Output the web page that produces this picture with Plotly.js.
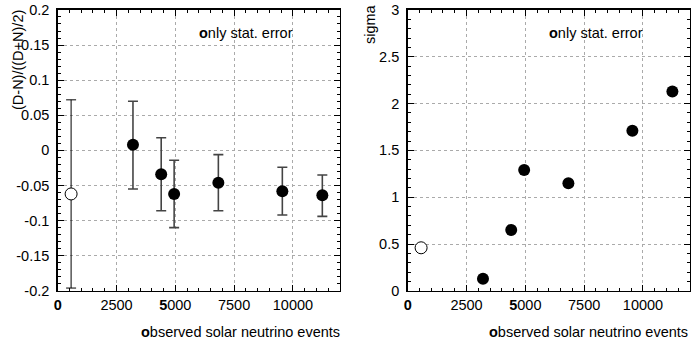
<!DOCTYPE html>
<html><head><meta charset="utf-8">
<script src="https://cdn.plot.ly/plotly-3.0.1.min.js"></script>
<style>html,body{margin:0;padding:0;background:#fff}#c{width:691px;height:343px}</style>
</head><body><div id="c"></div>
<script>
// open-circle point (first bin)
const openX = [570];
const openAsym = [-0.062];
const openErrPlus = [0.134];
const openErrMinus = [0.134];
const openSigma = [0.46];
// filled points
const fillX = [3200, 4400, 4950, 6830, 9550, 11250];
const fillAsym = [0.008, -0.034, -0.062, -0.046, -0.058, -0.064];
const fillErrPlus = [0.062, 0.052, 0.048, 0.040, 0.034, 0.029];
const fillErrMinus = [0.063, 0.052, 0.048, 0.040, 0.034, 0.030];
const fillSigma = [0.13, 0.65, 1.29, 1.15, 1.71, 2.13];
const xTickVals = [0, 2500, 5000, 7500, 10000];
const xTickText = ['<b>0</b>', '2500', '<b>5</b>000', '7500', '10000'];
const yLeftTicks = [-0.2, -0.15, -0.1, -0.05, 0, 0.05, 0.1, 0.15, 0.2];
const yLeftText = ['-0.2', '-0.15', '-0.1', '-0.05', '0', '0.05', '0.1', '0.15', '0.2'];
const yRightTicks = [0, 0.5, 1, 1.5, 2, 2.5, 3];
const yRightText = ['0', '0.5', '1', '1.5', '2', '2.5', '3'];

const F = 'Liberation Sans, Arial, sans-serif';
const traces = [
  {x: openX, y: openAsym, xaxis: 'x', yaxis: 'y', type: 'scatter', mode: 'markers',
   marker: {symbol: 'circle', size: 12, color: '#fff', line: {color: '#000', width: 1}},
   error_y: {type: 'data', symmetric: false, array: openErrPlus, arrayminus: openErrMinus, color: '#000', thickness: 1, width: 5}},
  {x: fillX, y: fillAsym, xaxis: 'x', yaxis: 'y', type: 'scatter', mode: 'markers',
   marker: {symbol: 'circle', size: 12, color: '#000'},
   error_y: {type: 'data', symmetric: false, array: fillErrPlus, arrayminus: fillErrMinus, color: '#444', thickness: 1.6, width: 5}},
  {x: openX, y: openSigma, xaxis: 'x2', yaxis: 'y2', type: 'scatter', mode: 'markers',
   marker: {symbol: 'circle', size: 12, color: '#fff', line: {color: '#000', width: 1}}},
  {x: fillX, y: fillSigma, xaxis: 'x2', yaxis: 'y2', type: 'scatter', mode: 'markers',
   marker: {symbol: 'circle', size: 12, color: '#000'}}
];
const axCommon = {
  showline: true, linecolor: '#000', linewidth: 1.5, mirror: 'ticks',
  ticks: 'inside', ticklen: 6, tickcolor: '#000', tickwidth: 1,
  showgrid: true, gridcolor: '#aaa', griddash: 'dot', gridwidth: 1,
  zeroline: false, tickfont: {family: F, size: 14.5, color: '#000'}, tickmode: 'array'
};
const xa = Object.assign({}, axCommon, {range: [0, 12000], tickvals: xTickVals, ticktext: xTickText,
  minor: {dtick: 500, ticks: 'inside', ticklen: 3, tickcolor: '#000', showgrid: false}});
const layout = {
  width: 691, height: 343, margin: {l: 0, r: 0, t: 0, b: 0},
  paper_bgcolor: '#fff', plot_bgcolor: '#fff', showlegend: false,
  xaxis: Object.assign({}, xa, {domain: [0.0835, 0.492], anchor: 'y'}),
  xaxis2: Object.assign({}, xa, {domain: [0.590, 0.9986], anchor: 'y2'}),
  yaxis: Object.assign({}, axCommon, {domain: [0.152, 0.971], range: [-0.2, 0.2], anchor: 'x',
    tickvals: yLeftTicks, ticktext: yLeftText, ticklabelstandoff: 4,
    minor: {dtick: 0.01, ticks: 'inside', ticklen: 3, tickcolor: '#000', showgrid: false}}),
  yaxis2: Object.assign({}, axCommon, {domain: [0.152, 0.971], range: [0, 3], anchor: 'x2',
    tickvals: yRightTicks, ticktext: yRightText, ticklabelstandoff: 4,
    minor: {dtick: 0.1, ticks: 'inside', ticklen: 3, tickcolor: '#000', showgrid: false}}),
  annotations: [
    {text: '<b>o</b>nly stat. error', xref: 'paper', yref: 'paper', x: 295/691, y: 1 - 33/343, xanchor: 'right', yanchor: 'middle', showarrow: false, font: {family: F, size: 14.5, color: '#000'}},
    {text: '<b>o</b>nly stat. error', xref: 'paper', yref: 'paper', x: 645/691, y: 1 - 33/343, xanchor: 'right', yanchor: 'middle', showarrow: false, font: {family: F, size: 14.5, color: '#000'}},
    {text: '<b>o</b>bserved solar neutrino events', xref: 'paper', yref: 'paper', x: 342/691, y: 1 - 332/343, xanchor: 'right', yanchor: 'middle', showarrow: false, font: {family: F, size: 14.5, color: '#000'}},
    {text: '<b>o</b>bserved solar neutrino events', xref: 'paper', yref: 'paper', x: 690/691, y: 1 - 332/343, xanchor: 'right', yanchor: 'middle', showarrow: false, font: {family: F, size: 14.5, color: '#000'}},
    {text: '(D-N)/((D+N)/2)', xref: 'paper', yref: 'paper', x: 18/691, y: 1 - 60/343, xanchor: 'center', yanchor: 'middle', textangle: -90, showarrow: false, font: {family: F, size: 14.5, color: '#000'}},
    {text: 'sigma', xref: 'paper', yref: 'paper', x: 370/691, y: 1 - 24/343, xanchor: 'center', yanchor: 'middle', textangle: -90, showarrow: false, font: {family: F, size: 14.5, color: '#000'}}
  ]
};
Plotly.newPlot('c', traces, layout, {staticPlot: true, displayModeBar: false});
</script></body></html>
